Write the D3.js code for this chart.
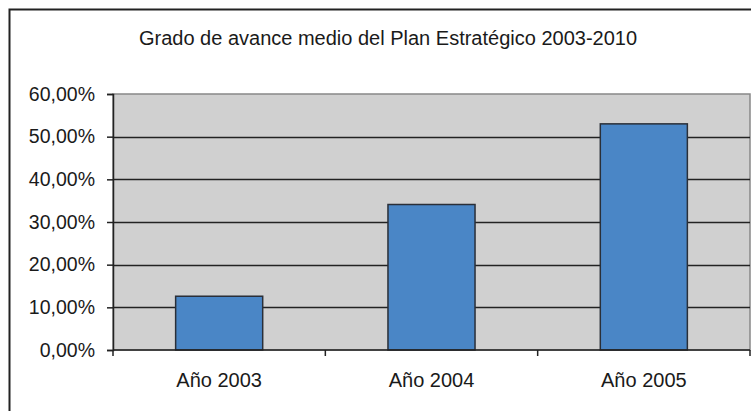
<!DOCTYPE html>
<html>
<head>
<meta charset="utf-8">
<script src="https://cdn.jsdelivr.net/npm/d3@7"></script>
<style>
  body{margin:0;background:#fff;}
  svg{display:block;font-family:"Liberation Sans",Arial,sans-serif;}
</style>
</head>
<body>
<div id="chart"></div>
<script>
var categories = ["Año 2003", "Año 2004", "Año 2005"]
var values = [12.6, 34.1, 53.0]
var yTicks = [0, 10, 20, 30, 40, 50, 60]
var title = "Grado de avance medio del Plan Estratégico 2003-2010"

drawChart()
function drawChart(){
  var width = 751
  var height = 411
  var margin = {top:94, bottom:61, left:113, right:1}

  var svg = d3.select("#chart").append("svg")
      .attr("width", width)
      .attr("height", height)

  // outer frame (only top and left visible)
  svg.append("path")
    .attr("d", "M9.5,411 L9.5,9.5 L751,9.5")
    .attr("fill", "none")
    .attr("stroke", "#222")
    .attr("stroke-width", 2)

  svg.append("text")
    .attr("x", 388)
    .attr("y", 45)
    .attr("text-anchor", "middle")
    .attr("font-size", 20)
    .attr("fill", "#1a1a1a")
    .text(title)

  var x = d3.scaleBand()
    .domain(categories)
    .range([margin.left, width-margin.right])
    .paddingInner(0.59)
    .paddingOuter(0.295)

  var y = d3.scaleLinear()
    .domain([0, 60])
    .range([height-margin.bottom, margin.top])

  // plot background
  svg.append("rect")
    .attr("x", margin.left)
    .attr("y", margin.top)
    .attr("width", width-margin.right-margin.left)
    .attr("height", height-margin.bottom-margin.top)
    .attr("fill", "#d0d0d0")
    .attr("stroke", "#888")
    .attr("stroke-width", 1.5)

  // gridlines
  svg.append("g").selectAll("line")
    .data(yTicks.filter(function(d){return d>0 && d<60}))
    .enter()
    .append("line")
    .attr("x1", margin.left)
    .attr("x2", width-margin.right)
    .attr("y1", function(d){return Math.round(y(d))+0.5})
    .attr("y2", function(d){return Math.round(y(d))+0.5})
    .attr("stroke", "#222")
    .attr("stroke-width", 1.5)

  // bars
  svg.append("g").selectAll("rect")
    .data(values)
    .enter()
    .append("rect")
    .attr("x", function(d,i){return x(categories[i])})
    .attr("y", function(d){return y(d)})
    .attr("width", x.bandwidth())
    .attr("height", function(d){return y(0)-y(d)})
    .attr("fill", "#4a86c6")
    .attr("stroke", "#2a2f38")
    .attr("stroke-width", 1.5)

  // y axis
  var yAxis = svg.append("g")
    .attr("transform", "translate("+margin.left+",0)")
    .call(d3.axisLeft(y).tickValues(yTicks).tickSize(6).tickPadding(12)
      .tickFormat(function(d){return d.toFixed(2).replace(".", ",")+"%"}))
  yAxis.select(".domain").attr("stroke", "#222").attr("stroke-width", 1.5)
  yAxis.selectAll(".tick line").attr("stroke", "#222").attr("stroke-width", 1.5)
  yAxis.selectAll("text").attr("font-size", 19.5).attr("fill", "#1a1a1a").attr("font-family", null)

  // x axis
  var xBoundaries = categories.map(function(c){return x(c) - x.step()*x.paddingInner()/2})
  xBoundaries.push(width-margin.right)
  xBoundaries[0] = margin.left
  svg.append("line")
    .attr("x1", margin.left).attr("x2", width-margin.right)
    .attr("y1", y(0)).attr("y2", y(0))
    .attr("stroke", "#222").attr("stroke-width", 1.5)
  svg.append("g").selectAll("line")
    .data(xBoundaries)
    .enter()
    .append("line")
    .attr("x1", function(d){return d}).attr("x2", function(d){return d})
    .attr("y1", y(0)).attr("y2", y(0)+6)
    .attr("stroke", "#222").attr("stroke-width", 1.5)

  svg.append("g").selectAll("text")
    .data(categories)
    .enter()
    .append("text")
    .attr("x", function(d){return x(d)+x.bandwidth()/2})
    .attr("y", 387)
    .attr("text-anchor", "middle")
    .attr("font-size", 20)
    .attr("fill", "#1a1a1a")
    .text(function(d){return d})
}
</script>
</body>
</html>
